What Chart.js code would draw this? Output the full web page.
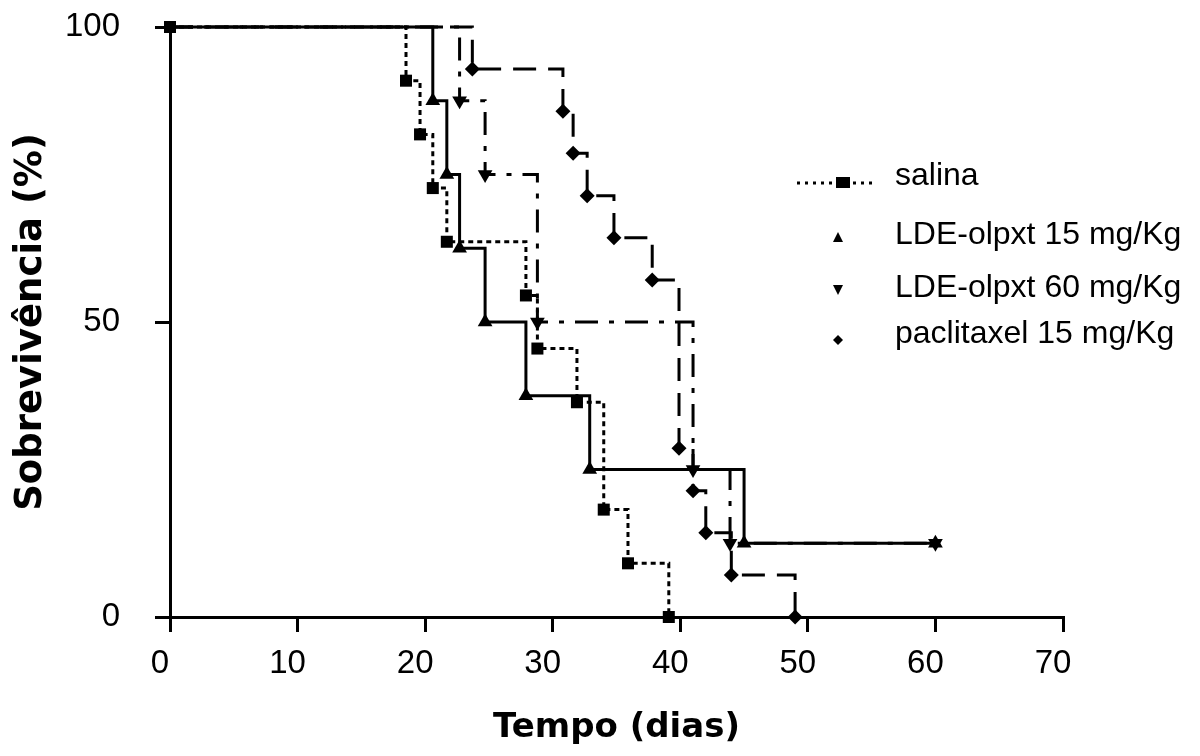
<!DOCTYPE html>
<html>
<head>
<meta charset="utf-8">
<script src="https://cdn.jsdelivr.net/npm/chart.js@4.4.0/dist/chart.umd.min.js"></script>
<style>
  body { margin: 0; background: #fff; }
  #wrap { position: relative; width: 1200px; height: 756px; }
  .item {
    position: absolute; left: 895px; line-height: 1; white-space: nowrap;
    font-family: "Liberation Sans", Arial, sans-serif; font-size: 32px; color: #000;
  }
  #simbolos { position: absolute; left: 0; top: 0; }
</style>
</head>
<body>
<div id="wrap">
  <canvas id="survivalChart" width="1200" height="756"></canvas>
  <svg id="simbolos" width="1200" height="756">
    <line x1="797" y1="183" x2="876" y2="183" stroke="#000" stroke-width="3" stroke-dasharray="3,5"/>
    <rect x="836" y="177" width="14" height="11" fill="#000"/>
    <polygon points="838,232 833,242 843,242" fill="#000"/>
    <polygon points="838,295 833,285 843,285" fill="#000"/>
    <polygon points="838,335 843,340 838,345 833,340" fill="#000"/>
  </svg>
  <div class="item" style="top:158px">salina</div>
  <div class="item" style="top:217px">LDE-olpxt 15 mg/Kg</div>
  <div class="item" style="top:270px">LDE-olpxt 60 mg/Kg</div>
  <div class="item" style="top:316px">paclitaxel 15 mg/Kg</div>
</div>
<script>
// valores (dias, % sobrevivência)
const salinaDias = [0, 18.5, 19.6, 20.6, 21.7, 27.9, 28.8, 31.9, 34.0, 35.9, 39.1];
const salinaSobrev = [100, 90.9, 81.8, 72.7, 63.6, 54.5, 45.5, 36.4, 18.2, 9.1, 0];

const lde15Dias = [0, 20.6, 21.7, 22.7, 24.7, 27.9, 32.9, 45.0, 60];
const lde15Sobrev = [100, 87.5, 75, 62.5, 50, 37.5, 25, 12.5, 12.5];

const lde60Dias = [0, 22.7, 24.7, 28.8, 41.0, 43.9, 60];
const lde60Sobrev = [100, 87.5, 75, 50, 25, 12.5, 12.5];

const paclitaxelDias = [0, 23.7, 30.8, 31.6, 32.7, 34.8, 37.8, 39.9, 41.0, 42.0, 44.0, 49.0];
const paclitaxelSobrev = [100, 92.9, 85.7, 78.6, 71.4, 64.3, 57.1, 28.6, 21.4, 14.3, 7.1, 0];

const xTicks = [0, 10, 20, 30, 40, 50, 60, 70];
const yTicks = [0, 50, 100];

function pontos(dias, sobrev) {
    return dias.map((d, i) => ({ x: d, y: sobrev[i] }));
}

// sem símbolo no ponto inicial (fica escondido sob o quadrado da salina)
function raios(n, r, primeiro) {
    return Array.from({ length: n }, (_, i) => (i === 0 ? primeiro : r));
}

Chart.defaults.font.family = '"Liberation Sans", Arial, sans-serif';
Chart.defaults.color = "#000";

const base = {
    stepped: true,
    borderColor: "#000",
    backgroundColor: "#000",
    pointBackgroundColor: "#000",
    pointBorderColor: "#000",
    pointBorderWidth: 0,
    borderWidth: 3,
    fill: false,
    clip: false
};

const ctx = document.getElementById("survivalChart");

new Chart(ctx, {
    type: "line",
    data: {
        datasets: [
            {
                ...base,
                label: "salina",
                data: pontos(salinaDias, salinaSobrev),
                borderDash: [5, 4],
                pointStyle: "rect",
                pointRadius: raios(salinaDias.length, 8.5, 8.5)
            },
            {
                ...base,
                label: "LDE-olpxt 15 mg/Kg",
                data: pontos(lde15Dias, lde15Sobrev),
                pointStyle: "triangle",
                pointRadius: raios(lde15Dias.length, 8.5, 0)
            },
            {
                ...base,
                label: "LDE-olpxt 60 mg/Kg",
                data: pontos(lde60Dias, lde60Sobrev),
                borderDash: [23, 11, 5, 11],
                pointStyle: "triangle",
                pointRotation: 180,
                pointRadius: raios(lde60Dias.length, 8.5, 0)
            },
            {
                ...base,
                label: "paclitaxel 15 mg/Kg",
                data: pontos(paclitaxelDias, paclitaxelSobrev),
                borderDash: [23, 12],
                pointStyle: "rectRot",
                pointRadius: raios(paclitaxelDias.length, 7.5, 0)
            }
        ]
    },
    options: {
        responsive: false,
        animation: false,
        layout: {
            padding: { top: 27, right: 137, left: 0, bottom: 0 }
        },
        plugins: {
            legend: { display: false },
            tooltip: { enabled: false }
        },
        scales: {
            x: {
                type: "linear",
                min: 0,
                max: 70,
                afterFit: (axis) => { axis.height = 139; },
                afterBuildTicks: (axis) => { axis.ticks = xTicks.map(v => ({ value: v })); },
                grid: { drawOnChartArea: false, color: "#000", lineWidth: 3, tickLength: 15 },
                border: { color: "#000", width: 3 },
                ticks: { font: { size: 33 }, padding: 12, labelOffset: -10, maxRotation: 0 },
                title: {
                    display: true,
                    text: "Tempo (dias)",
                    font: { family: '"DejaVu Sans", sans-serif', size: 34, weight: "bold" },
                    padding: { top: 0, bottom: 7 }
                }
            },
            y: {
                min: 0,
                max: 100,
                afterFit: (axis) => {
                    axis.width = 170;
                    axis.paddingTop = 0;
                    axis.paddingBottom = 0;
                },
                afterBuildTicks: (axis) => { axis.ticks = yTicks.map(v => ({ value: v })); },
                grid: { drawOnChartArea: false, color: "#000", lineWidth: 3, tickLength: 15 },
                border: { color: "#000", width: 3 },
                ticks: { font: { size: 33 }, padding: 35 },
                title: {
                    display: true,
                    text: "Sobrevivência (%)",
                    font: { family: '"DejaVu Sans", sans-serif', size: 37, weight: "bold" },
                    padding: { top: 9, bottom: 0 }
                }
            }
        }
    }
});
</script>
</body>
</html>
